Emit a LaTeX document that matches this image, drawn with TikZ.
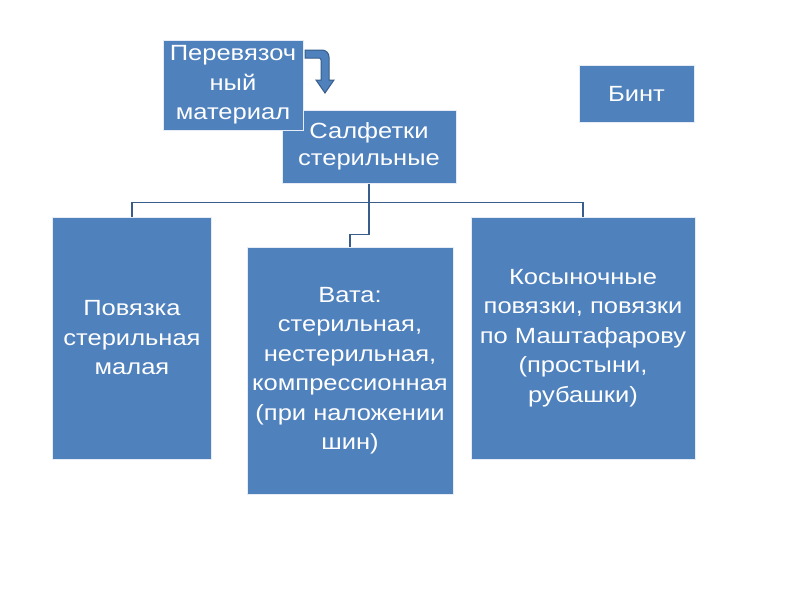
\documentclass[tikz,border=0pt]{standalone}
\usepackage{fontspec}
\setmainfont[FakeStretch=1.16]{Liberation Sans}
\usepackage{tikz}
\usetikzlibrary{shapes,arrows}
\definecolor{boxblue}{RGB}{79,129,189}
\definecolor{linedark}{RGB}{56,93,138}

\begin{document}
\begin{tikzpicture}[x=1pt,y=-1pt]
\tikzstyle{every node}=[font=\fontsize{22}{29.5}\selectfont, text=white, align=center]
\tikzstyle{box}=[draw={rgb,255:red,230; green,236; blue,245}, line width=1pt, fill=boxblue, inner sep=0pt]
\tikzstyle{link}=[draw=linedark, line width=1.6pt]
\fill[white] (0,0) rectangle (800,600);
\useasboundingbox (0,0) rectangle (800,600);
% upper row
\node [box, minimum width=174pt, minimum height=73pt, font=\fontsize{22}{26.5}\selectfont] (salf) at (369,146.5) {Салфетки\\стерильные};
\node [box, minimum width=140pt, minimum height=90pt] (mat) at (233,85) {Перевязоч\\ный\\материал};
\node [box, minimum width=115pt, minimum height=57pt] (bint) at (636.5,93.5) {Бинт};
% lower row
\node [box, minimum width=159pt, minimum height=242pt] (povyaz) at (132,338) {Повязка\\стерильная\\малая};
\node [box, minimum width=206pt, minimum height=247pt] (vata) at (350,370.5) {Вата:\\стерильная,\\нестерильная,\\компрессионная\\(при наложении\\шин)};
\node [box, minimum width=224pt, minimum height=242pt] (kosyn) at (583,338) {Косыночные\\повязки, повязки\\по Маштафарову\\(простыни,\\рубашки)};
% connectors
\draw [link] (povyaz.north) -- ++(0,-14) -| (kosyn.north);
\draw [link] (salf.south) -- ++(0,51) -| (vata.north);
% bent arrow
\draw [draw=linedark, fill=boxblue, line width=1pt] (305,50) [rounded corners=7] -- (329,50) [sharp corners] -- (329,80) -- (334,80) -- (325,93) -- (316,80) -- (321,80) [rounded corners=2] -- (321,58) [sharp corners] -- (305,58) -- cycle;
\end{tikzpicture}
\end{document}
